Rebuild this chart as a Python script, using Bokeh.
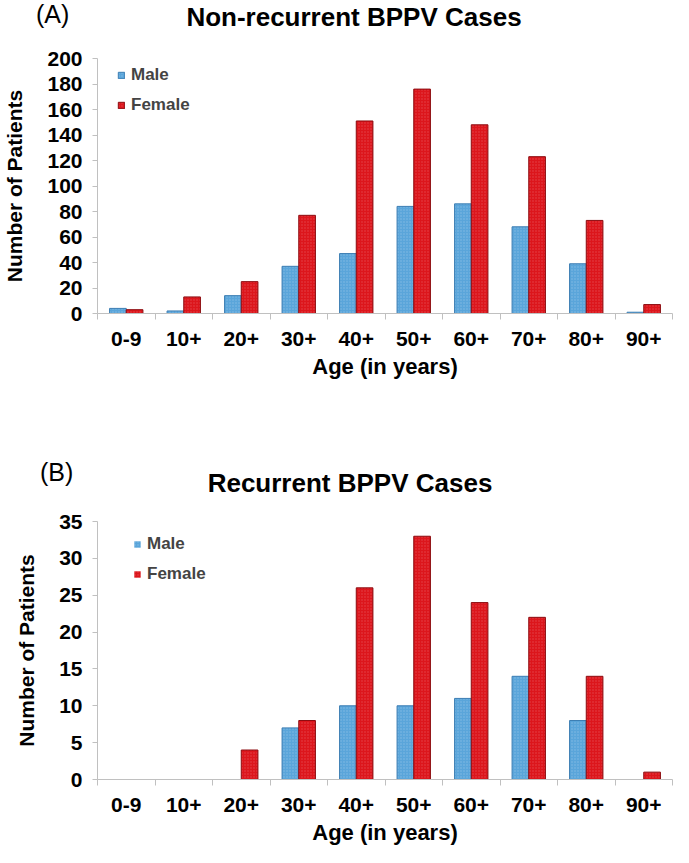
import numpy as np
from bokeh.plotting import figure
from bokeh.models import Range1d, FixedTicker, Legend, LegendItem, ColumnDataSource, Div
from bokeh.layouts import column
from bokeh.embed import file_html
from bokeh.resources import INLINE

# ---------------- data ----------------
categories = ["0-9", "10+", "20+", "30+", "40+", "50+", "60+", "70+", "80+", "90+"]
male_nonrec = [4, 2, 14, 37, 47, 84, 86, 68, 39, 1]
female_nonrec = [3, 13, 25, 77, 151, 176, 148, 123, 73, 7]
male_rec = [0, 0, 0, 7, 10, 10, 11, 14, 8, 0]
female_rec = [0, 0, 4, 8, 26, 33, 24, 22, 14, 1]
yticks_nonrec = [0, 20, 40, 60, 80, 100, 120, 140, 160, 180, 200]
yticks_rec = [0, 5, 10, 15, 20, 25, 30, 35]

FONT = "Liberation Sans"
MALE_FILL, MALE_LINE = "#5aa5da", "#3b7db3"
FEMALE_FILL, FEMALE_LINE = "#dc161c", "#8c0c10"
AXIS_GRAY = "#c0c0c0"
BW = 0.29
W = 673
FRAME_L, FRAME_R = 96, 680  # page coords


def header(tag, title, top_page, height, tag_left, tag_top, title_center, title_top):
    html = (
        f'<div style="position:relative;width:{W}px;height:{height}px;margin:0;padding:0;'
        f'font-family:\'Liberation Sans\',Arial,sans-serif;color:#000;">'
        f'<span style="position:absolute;left:{tag_left - 8}px;top:{tag_top - top_page}px;'
        f'font-size:25px;line-height:28px;white-space:nowrap;">{tag}</span>'
        f'<span style="position:absolute;left:{title_center - 8}px;top:{title_top - top_page}px;'
        f'transform:translateX(-50%);font-size:26px;font-weight:bold;line-height:26px;'
        f'white-space:nowrap;">{title}</span></div>'
    )
    return Div(text=html, width=W, height=height, margin=(0, 0, 0, 0))


def panel(male, female, yticks, fig_top, fig_h, frame_top, frame_bottom, legend_x, legend_center):
    ymax = yticks[-1]
    n = len(categories)
    idx = np.arange(n)
    p = figure(width=W, height=fig_h, output_backend="svg", toolbar_location=None,
               x_range=Range1d(0, n), y_range=Range1d(0, ymax),
               min_border_left=FRAME_L - 8, min_border_right=W + 8 - FRAME_R,
               min_border_top=frame_top - fig_top,
               min_border_bottom=fig_top + fig_h - frame_bottom,
               margin=(0, 0, 0, 0))
    p.outline_line_color = None
    p.xgrid.grid_line_color = None
    p.ygrid.grid_line_color = None

    src_m = ColumnDataSource(dict(x=idx + 0.5 - BW / 2, top=male,
                                  la=[1.0 if v > 0 else 0.0 for v in male]))
    src_f = ColumnDataSource(dict(x=idx + 0.5 + BW / 2, top=female,
                                  la=[1.0 if v > 0 else 0.0 for v in female]))
    rm = p.vbar(x="x", top="top", width=BW, source=src_m, fill_color=MALE_FILL,
                line_color=MALE_LINE, line_alpha="la", line_width=1,
                hatch_pattern="dot", hatch_color="#ffffff", hatch_alpha=0.25, hatch_scale=3)
    rf = p.vbar(x="x", top="top", width=BW, source=src_f, fill_color=FEMALE_FILL,
                line_color=FEMALE_LINE, line_alpha="la", line_width=1,
                hatch_pattern="dot", hatch_color="#ffffff", hatch_alpha=0.2, hatch_scale=3)

    xa = p.xaxis[0]
    xa.ticker = FixedTicker(ticks=list(idx + 0.5), minor_ticks=list(range(n + 1)))
    xa.major_label_overrides = {float(i + 0.5): c for i, c in enumerate(categories)}
    xa.major_tick_out = 0
    xa.major_tick_in = 0
    xa.minor_tick_out = 6
    xa.minor_tick_in = 0
    xa.minor_tick_line_color = AXIS_GRAY
    xa.axis_line_color = AXIS_GRAY
    xa.major_label_text_font = FONT
    xa.major_label_text_font_style = "bold"
    xa.major_label_text_font_size = "21px"
    xa.major_label_text_color = "black"
    xa.major_label_standoff = 12
    xa.axis_label = "Age (in years)"
    xa.axis_label_text_font = FONT
    xa.axis_label_text_font_style = "bold"
    xa.axis_label_text_font_size = "22px"
    xa.axis_label_text_color = "black"
    xa.axis_label_standoff = 5

    ya = p.yaxis[0]
    ya.ticker = FixedTicker(ticks=yticks, minor_ticks=[])
    ya.major_tick_out = 5
    ya.major_tick_in = 0
    ya.major_tick_line_color = AXIS_GRAY
    ya.minor_tick_line_color = None
    ya.axis_line_color = AXIS_GRAY
    ya.major_label_text_font = FONT
    ya.major_label_text_font_style = "bold"
    ya.major_label_text_font_size = "21px"
    ya.major_label_text_color = "black"
    ya.major_label_standoff = 10
    ya.axis_label = "Number of Patients"
    ya.axis_label_text_font = FONT
    ya.axis_label_text_font_style = "bold"
    ya.axis_label_text_font_size = "21px"
    ya.axis_label_text_color = "black"
    ya.axis_label_standoff = 18

    legend = Legend(items=[LegendItem(label="Male", renderers=[rm]),
                           LegendItem(label="Female", renderers=[rf])],
                    location=(legend_x - FRAME_L, frame_bottom - (legend_center - 10 + 50)),
                    glyph_width=8, glyph_height=8, label_standoff=6,
                    label_text_font=FONT, label_text_font_style="bold",
                    label_text_font_size="17px", label_height=20, spacing=10,
                    padding=0, margin=0, border_line_color=None,
                    background_fill_alpha=0.0)
    p.add_layout(legend, "center")
    return p


hA = header("(A)", "Non-recurrent BPPV Cases", top_page=8, height=40,
            tag_left=44, tag_top=8, title_center=362, title_top=12)
pA = panel(male_nonrec, female_nonrec, yticks_nonrec, fig_top=48, fig_h=418,
           frame_top=66, frame_bottom=321, legend_x=116, legend_center=83)
hB = header("(B)", "Recurrent BPPV Cases", top_page=466, height=44,
            tag_left=48, tag_top=466, title_center=358, title_top=478)
pB = panel(male_rec, female_rec, yticks_rec, fig_top=510, fig_h=345,
           frame_top=529, frame_bottom=790, legend_x=132, legend_center=555)

layout = column(hA, pA, hB, pB, spacing=0, margin=(0, 0, 0, 0))
open("out.html", "w").write(file_html(layout, INLINE))
